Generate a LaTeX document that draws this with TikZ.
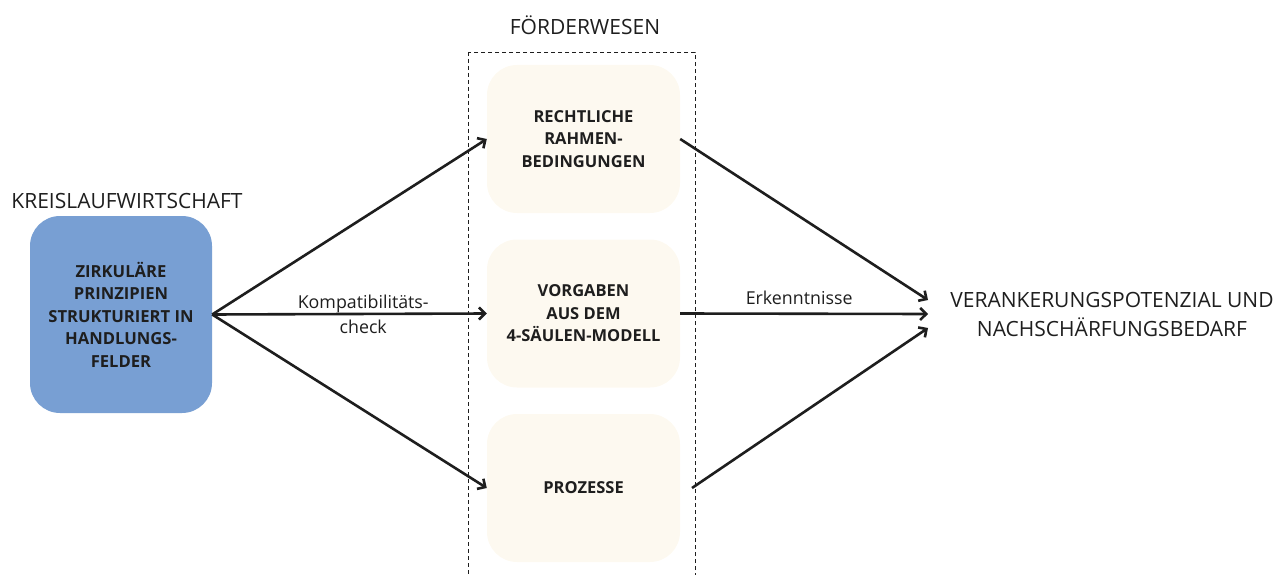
\documentclass[tikz,border=0pt]{standalone}
\usepackage{fontspec}
\setmainfont{Open Sans}
\usetikzlibrary{arrows.meta}
\definecolor{boxblue}{HTML}{789FD3}
\definecolor{cream}{HTML}{FDF9F0}
\definecolor{ink}{HTML}{1E1E1E}
\begin{document}
\begin{tikzpicture}[x=1pt,y=-1pt,
  every node/.style={text=ink},
  card/.style={rounded corners=30pt, minimum width=193pt, minimum height=148pt,
    fill=cream, align=center, font=\fontsize{16.5}{22.5}\selectfont\bfseries},
  link/.style={draw=ink, line width=2.6pt, -{Straight Barb[length=6pt,width=12pt]}},
  heading/.style={font=\fontsize{21}{29}\selectfont, align=center},
  note/.style={font=\fontsize{17.8}{25}\selectfont, align=center}]
\useasboundingbox (0,0) rectangle (1288,575);

% group frame
\draw[ink, line width=0.8pt, dash pattern=on 4pt off 3pt] (468,52) rectangle (695,600);
\node[heading] (grp) at (585,25) {FÖRDERWESEN};

% source
\node[heading] (srct) at (127,201) {KREISLAUFWIRTSCHAFT};
\node[rounded corners=30pt, minimum width=182pt, minimum height=197pt, fill=boxblue,
  align=center, font=\fontsize{16.6}{22.5}\selectfont\bfseries] (zb) at (121,314.5)
  {ZIRKULÄRE\\PRINZIPIEN\\STRUKTURIERT IN\\HANDLUNGS-\\FELDER};

% pillars
\node[card] (b1) at (583.5,139) {RECHTLICHE\\RAHMEN-\\BEDINGUNGEN};
\node[card] (b2) at (583.5,313.5) {VORGABEN\\AUS DEM\\4-SÄULEN-MODELL};
\node[card] (b3) at (583.5,488) {PROZESSE};

% result
\node[heading] (res) at (1112,314.5) {VERANKERUNGSPOTENZIAL UND\\NACHSCHÄRFUNGSBEDARF};
\coordinate (t1) at (928,300);
\coordinate (t2) at (928,314);
\coordinate (t3) at (928,328);
\coordinate (s3) at (692,488);

% connectors
\draw[link] (zb.east) -- (b1.west);
\draw[link] (zb.east) -- node[note, pos=0.55] (lk) {Kompatibilitäts-\\check} (b2.west);
\draw[link] (zb.east) -- (b3.west);
\draw[link] (b1.east) -- (t1);
\draw[link] (b2.east) -- node[note, above=4pt, pos=0.48] (le) {Erkenntnisse} (t2);
\draw[link] (s3) -- (t3);
\end{tikzpicture}
\end{document}
